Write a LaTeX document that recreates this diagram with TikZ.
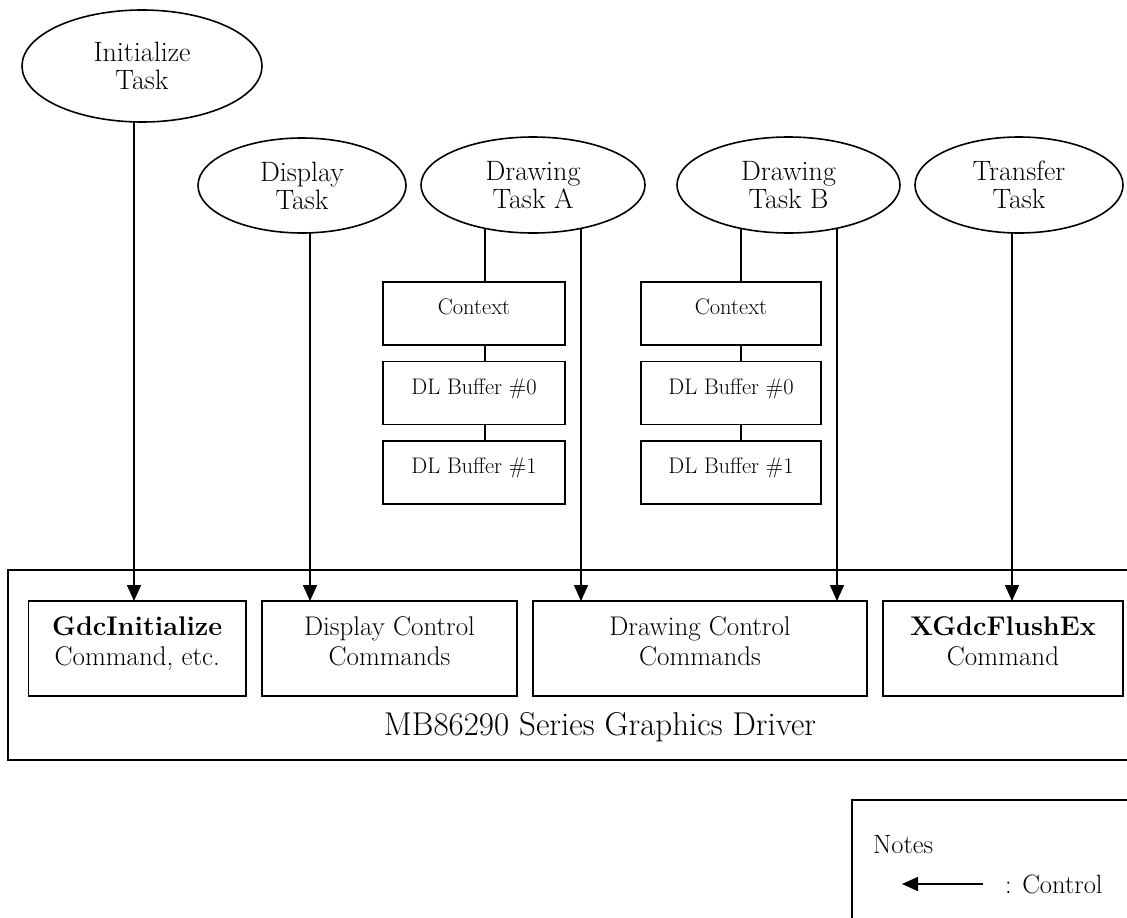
\documentclass[tikz,border=0pt]{standalone}
\usepackage{fontspec}
\usetikzlibrary{shapes.geometric,arrows.meta,backgrounds}

\begin{document}
\begin{tikzpicture}[x=1pt,y=-1pt,
  every node/.style={inner sep=0pt, outer sep=0pt},
  stroke/.style={line width=1.6pt},
  task/.style={draw, stroke, ellipse, fill=white, align=center,
    font=\fontsize{28}{28}\selectfont},
  buf/.style={draw, stroke, rectangle, fill=white, minimum width=182pt,
    minimum height=63pt, font=\fontsize{22.5}{26}\selectfont,
    text height=15.5pt, text depth=13pt},
  cmd/.style={draw, stroke, rectangle, align=center, minimum height=95pt,
    font=\fontsize{27}{30}\selectfont, text height=49pt, text depth=15pt},
  frame/.style={draw, stroke, rectangle, anchor=north west},
  link/.style={stroke},
  ctrl/.style={stroke, -{Triangle[length=16pt,width=14pt]}},
  legend/.style={font=\fontsize{26.5}{30}\selectfont, anchor=west},
]
\useasboundingbox (0,0) rectangle (1127,918);
\clip (0,0) rectangle (1127,918);

% tasks
\node[task, minimum width=240pt, minimum height=112pt] (init) at (142,66) {Initialize\\Task};
\node[task, minimum width=208pt, minimum height=95pt] (disp) at (302,185.5) {Display\\Task};
\node[task, minimum width=224pt, minimum height=96pt] (drawA) at (533,185) {Drawing\\Task A};
\node[task, minimum width=223pt, minimum height=96pt] (drawB) at (788.5,185) {Drawing\\Task B};
\node[task, minimum width=208pt, minimum height=96pt] (xfer) at (1019,185) {Transfer\\Task};

% per-task context and display list buffers
\node[buf] (ctxA) at (474,313.5) {Context};
\node[buf] (dl0A) at (474,393) {DL Buffer \#0};
\node[buf] (dl1A) at (474,472.5) {DL Buffer \#1};
\node[buf, minimum width=180pt] (ctxB) at (731,313.5) {Context};
\node[buf, minimum width=180pt] (dl0B) at (731,393) {DL Buffer \#0};
\node[buf, minimum width=180pt] (dl1B) at (731,472.5) {DL Buffer \#1};

% graphics driver and its command groups
\node[frame, minimum width=1150pt, minimum height=190pt] (driver) at (8,570) {};
\node[font=\fontsize{33}{38}\selectfont] (drvlabel) at (600,727) {MB86290 Series Graphics Driver};
\node[cmd, minimum width=217.5pt] (gdc) at (137.25,648.5) {\textbf{GdcInitialize}\\Command, etc.};
\node[cmd, minimum width=255pt] (dispc) at (389.5,648.5) {Display Control\\Commands};
\node[cmd, minimum width=334pt] (drawc) at (700,648.5) {Drawing Control\\Commands};
\node[cmd, minimum width=240pt] (xgdc) at (1003,648.5) {\textbf{XGdcFlushEx}\\Command};

% legend
\node[frame, minimum width=300pt, minimum height=200pt] (notes) at (852,800) {};
\node[legend] (notesTitle) at (873,845) {Notes};
\coordinate (legTail) at (983,884);
\coordinate (legHead) at (902,884);
\draw[ctrl] (legTail) -- (legHead);
\node[legend] (legText) at (1005,884) {: Control};

% connector start points inside the task ellipses
\coordinate (sInit) at ([xshift=-8pt]init.center);
\coordinate (sDisp) at ([xshift=8pt]disp.center);
\coordinate (sA1) at ([xshift=-48pt]drawA.center);
\coordinate (sA2) at ([xshift=48pt]drawA.center);
\coordinate (sB1) at ([xshift=-47.5pt]drawB.center);
\coordinate (sB2) at ([xshift=48.5pt]drawB.center);
\coordinate (sXfer) at ([xshift=-7pt]xfer.center);

\begin{scope}[on background layer]
  \draw[ctrl] (sInit) -- (sInit |- gdc.north);
  \draw[ctrl] (sDisp) -- (sDisp |- dispc.north);
  \draw[link] (sA1) -- (sA1 |- dl1A.north);
  \draw[ctrl] (sA2) -- (sA2 |- drawc.north);
  \draw[link] (sB1) -- (sB1 |- dl1B.north);
  \draw[ctrl] (sB2) -- (sB2 |- drawc.north);
  \draw[ctrl] (sXfer) -- (sXfer |- xgdc.north);
\end{scope}
\end{tikzpicture}
\end{document}
